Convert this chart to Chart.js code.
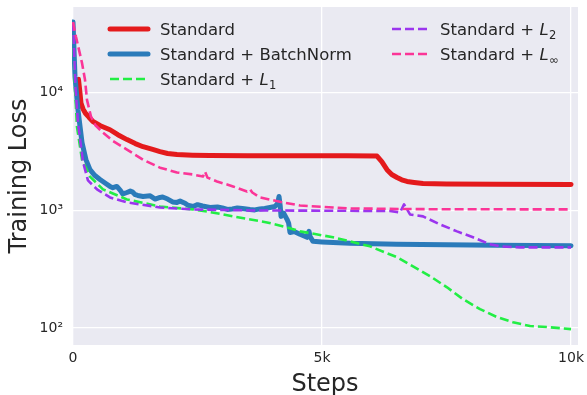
<!DOCTYPE html>
<html>
<head>
<meta charset="utf-8">
<script src="https://cdn.jsdelivr.net/npm/chart.js@4.4.1/dist/chart.umd.min.js"></script>
<style>
  html, body { margin: 0; padding: 0; background: #fff; }
  #wrap { width: 587px; height: 395px; }
</style>
</head>
<body>
<div id="wrap"><canvas id="chart" width="587" height="395"></canvas></div>
<script>
const FONT = '"DejaVu Sans", Verdana, sans-serif';
const TEXT = '#262626';
const PLOT_BG = '#eaeaf2';

// ─── series names / colours (legend order) ───
const SERIES_NAMES = ['Standard', 'Standard + BatchNorm', 'Standard + L_1', 'Standard + L_2', 'Standard + L_∞'];
const COLORS = ['#e41a1c', '#2b7bba', '#22ee44', '#9b35ee', '#fb3597'];

// ─── ticks ───
const X_TICKS  = [0, 5000, 10000];
const X_LABELS = ['0', '5k', '10k'];
const Y_TICKS  = [100, 1000, 10000];
const Y_LABELS = ['10²', '10³', '10⁴'];

// ─── Standard ───
const stdSteps = [110, 140, 160, 200, 250, 320, 400, 550, 743, 900, 1084, 1250, 1406, 1600, 1747, 1900, 2088, 2400, 2751, 3500, 4500, 5500, 6104, 6200, 6305, 6400, 6506, 6600, 6707, 6850, 7028, 7500, 8500, 10000];
const stdLoss  = [13000, 10000, 8200, 7300, 6700, 6200, 5700, 5250, 4850, 4400, 4000, 3700, 3480, 3300, 3160, 3050, 2985, 2950, 2930, 2920, 2920, 2920, 2900, 2600, 2220, 2020, 1905, 1820, 1763, 1730, 1694, 1680, 1670, 1660];

// ─── Standard + BatchNorm ───
const bnSteps = [0, 40, 100, 181, 260, 341, 440, 542, 650, 743, 800, 880, 950, 1000, 1084, 1150, 1200, 1250, 1300, 1406, 1550, 1650, 1747, 1800, 1900, 2000, 2088, 2150, 2250, 2300, 2410, 2500, 2600, 2751, 2900, 3000, 3100, 3200, 3300, 3400, 3554, 3650, 3750, 3850, 3956, 4056, 4110, 4137, 4160, 4177, 4230, 4297, 4330, 4357, 4450, 4558, 4699, 4739, 4760, 4819, 5000, 5221, 5562, 6500, 7500, 8500, 10000];
const bnLoss  = [40000, 13700, 7180, 3770, 2700, 2220, 1980, 1830, 1700, 1600, 1560, 1600, 1480, 1380, 1420, 1460, 1430, 1360, 1340, 1315, 1330, 1250, 1290, 1300, 1250, 1180, 1170, 1200, 1150, 1110, 1080, 1120, 1090, 1060, 1070, 1050, 1020, 1030, 1050, 1040, 1020, 1010, 1030, 1040, 1060, 1080, 1150, 1315, 1100, 890, 950, 840, 780, 650, 660, 627, 591, 664, 600, 546, 540, 535, 525, 515, 510, 505, 500];

// ─── Standard + L1 ───
const l1Steps = [0, 40, 80, 181, 341, 602, 1084, 1747, 2410, 2691, 3213, 3896, 4297, 4558, 5221, 5562, 5964, 6506, 6827, 7169, 7510, 7831, 8173, 8514, 8835, 9177, 9518, 10000];
const l1Loss  = [40000, 11000, 5150, 2700, 1940, 1510, 1240, 1080, 1020, 980, 890, 791, 718, 664, 591, 546, 495, 400, 335, 276, 222, 176, 145, 124, 112, 104, 102, 98];

// ─── Standard + L2 ───
const l2Steps = [0, 50, 100, 200, 300, 482, 743, 1084, 1747, 2410, 3554, 6365, 6566, 6647, 6767, 7028, 7369, 7711, 8032, 8373, 8574, 8976, 10000];
const l2Loss  = [40000, 11000, 5500, 2600, 1800, 1510, 1290, 1170, 1060, 1020, 1000, 990, 962, 1125, 925, 890, 760, 664, 591, 516, 495, 485, 485];

// ─── Standard + Linf ───
const linfSteps = [0, 60, 181, 241, 281, 360, 450, 602, 800, 1084, 1406, 1747, 2088, 2410, 2610, 2651, 2700, 2892, 3213, 3494, 3554, 3600, 3755, 4217, 4558, 5221, 5562, 7000, 10000];
const linfLoss  = [40000, 29900, 17900, 12900, 8700, 6300, 5300, 4580, 3900, 3290, 2700, 2310, 2100, 2020, 1940, 2140, 1900, 1763, 1600, 1450, 1510, 1420, 1290, 1170, 1100, 1060, 1040, 1025, 1020];

const STEPS = [stdSteps, bnSteps, l1Steps, l2Steps, linfSteps];
const LOSS  = [stdLoss, bnLoss, l1Loss, l2Loss, linfLoss];
const DASHED = [false, false, true, true, true];

const pts = (xs, ys) => xs.map((x, i) => ({ x, y: ys[i] }));

const datasets = SERIES_NAMES.map((name, i) => ({
  label: name,
  data: pts(STEPS[i], LOSS[i]),
  borderColor: COLORS[i],
  borderWidth: DASHED[i] ? 2.6 : 5,
  borderDash: DASHED[i] ? [9, 4] : [],
  borderCapStyle: DASHED[i] ? 'butt' : 'round',
  borderJoinStyle: 'round',
  pointRadius: 0,
  tension: 0,
  fill: false,
  order: SERIES_NAMES.length - i
}));

// plot background
const plotBg = {
  id: 'plotBg',
  beforeDraw(chart) {
    const { ctx, chartArea: a } = chart;
    ctx.save();
    ctx.fillStyle = PLOT_BG;
    ctx.fillRect(a.left, a.top, a.right - a.left, a.bottom - a.top);
    ctx.restore();
  }
};

// legend inside the plot, two columns
const LEG_POS = [[110, 148, 160, 29], [110, 148, 160, 54], [110, 148, 160, 79], [392, 428, 440, 29], [392, 428, 440, 54]];

function drawLabel(ctx, text, x, y) {
  const parts = text.split('_');
  ctx.font = `16.5px ${FONT}`;
  if (parts.length === 1) { ctx.fillText(text, x, y); return; }
  const pre = parts[0].slice(0, -1);
  ctx.fillText(pre, x, y);
  x += ctx.measureText(pre).width;
  ctx.font = `italic 16.5px ${FONT}`;
  ctx.fillText('L', x, y);
  x += ctx.measureText('L').width + 0.5;
  ctx.font = `11.5px ${FONT}`;
  ctx.fillText(parts[1], x, y + 3.5);
}

const inlineLegend = {
  id: 'inlineLegend',
  afterDraw(chart) {
    const ctx = chart.ctx;
    ctx.save();
    chart.data.datasets.forEach((ds, i) => {
      const [x0, x1, tx, y] = LEG_POS[i];
      ctx.strokeStyle = ds.borderColor;
      ctx.lineWidth = ds.borderWidth;
      ctx.setLineDash(ds.borderDash);
      ctx.lineCap = ds.borderCapStyle;
      ctx.beginPath();
      ctx.moveTo(x0, y);
      ctx.lineTo(x1, y);
      ctx.stroke();
      ctx.setLineDash([]);
      ctx.fillStyle = TEXT;
      ctx.textBaseline = 'alphabetic';
      ctx.textAlign = 'left';
      drawLabel(ctx, ds.label, tx, y + 6);
    });
    ctx.restore();
  }
};

new Chart(document.getElementById('chart'), {
  type: 'line',
  data: { datasets },
  options: {
    responsive: false,
    animation: false,
    layout: { padding: { top: 7, right: 9, left: 0, bottom: 0 } },
    plugins: { legend: { display: false }, tooltip: { enabled: false } },
    scales: {
      x: {
        type: 'linear', min: -20, max: 10140,
        afterBuildTicks: s => { s.ticks = X_TICKS.map(v => ({ value: v })); },
        afterFit: s => { s.height = 50; s.paddingLeft = 0; s.paddingRight = 0; },
        ticks: {
          callback: v => X_LABELS[X_TICKS.indexOf(v)],
          font: { family: FONT, size: 14 }, color: TEXT, padding: 5,
          maxRotation: 0, autoSkip: false
        },
        grid: { color: '#ffffff', lineWidth: 1.3, drawTicks: false },
        border: { display: false },
        title: {
          display: true, text: 'Steps', color: TEXT,
          font: { family: FONT, size: 24, lineHeight: 0.8 },
          padding: { top: 0, bottom: 1.1 }
        }
      },
      y: {
        type: 'logarithmic', min: 71.8, max: 53600,
        afterBuildTicks: s => { s.ticks = Y_TICKS.map(v => ({ value: v })); },
        afterFit: s => { s.width = 72; s.paddingTop = 0; s.paddingBottom = 0; },
        ticks: {
          callback: v => Y_LABELS[Y_TICKS.indexOf(v)],
          font: { family: FONT, size: 14 }, color: TEXT, padding: 9,
          autoSkip: false
        },
        grid: { color: '#ffffff', lineWidth: 1.3, drawTicks: false },
        border: { display: false },
        title: {
          display: true, text: 'Training Loss', color: TEXT,
          font: { family: FONT, size: 24, lineHeight: 0.8 },
          padding: { top: 10.4, bottom: 0 }
        }
      }
    }
  },
  plugins: [plotBg, inlineLegend]
});
</script>
</body>
</html>
